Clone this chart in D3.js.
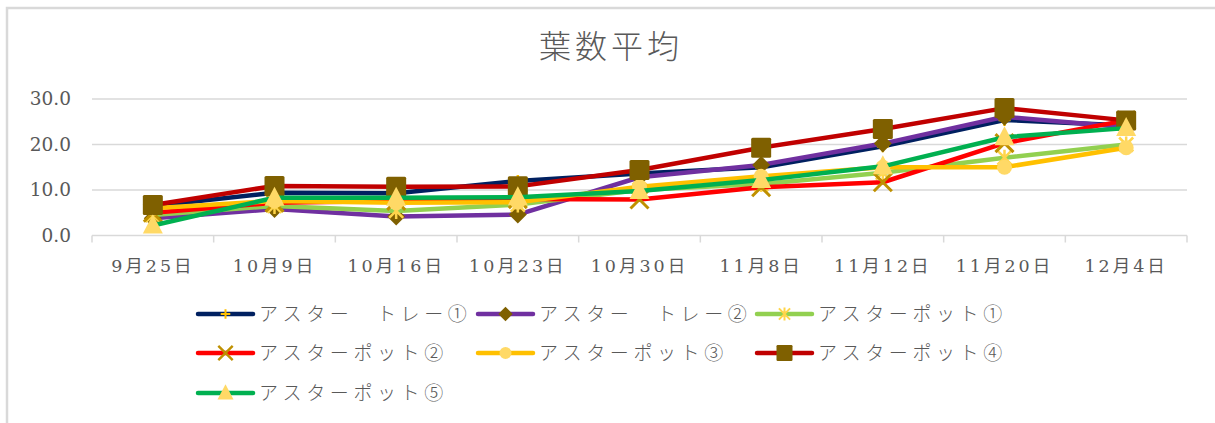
<!DOCTYPE html>
<html>
<head>
<meta charset="utf-8">
<script src="https://cdn.jsdelivr.net/npm/d3@7"></script>
<style>
  html, body { margin: 0; padding: 0; background: #fff; }
  svg { display: block; }
</style>
</head>
<body>
<svg id="chart" width="1215" height="423"></svg>
<script>
// 葉数平均 — average leaf count per sampling date
const categories = ["9月25日", "10月9日", "10月16日", "10月23日", "10月30日", "11月8日", "11月12日", "11月20日", "12月4日"];
const yTicks = [0, 10, 20, 30];

const seriesNames = ["アスター　トレー①", "アスター　トレー②", "アスターポット①", "アスターポット②", "アスターポット③", "アスターポット④", "アスターポット⑤"];
const tray1 = [6.5, 9.4, 9.3, 12.0, 13.6, 15.0, 19.6, 25.4, 24.2];
const tray2 = [3.8, 5.8, 4.2, 4.6, 12.8, 15.5, 20.2, 26.1, 23.8];
const pot1  = [4.5, 6.5, 5.4, 6.8, 10.0, 11.3, 13.8, 17.1, 20.0];
const pot2  = [5.0, 7.2, 7.6, 8.0, 7.9, 10.6, 11.7, 20.3, 25.3];
const pot3  = [6.0, 7.6, 7.2, 7.3, 10.7, 13.0, 15.0, 15.0, 19.3];
const pot4  = [6.7, 10.9, 10.7, 10.8, 14.4, 19.3, 23.4, 28.0, 25.3];
const pot5  = [2.2, 8.3, 8.3, 8.4, 9.8, 12.2, 15.2, 21.6, 23.6];

const seriesValues = [tray1, tray2, pot1, pot2, pot3, pot4, pot5];
const lineColors = ["#002060", "#7030A0", "#92D050", "#FF0000", "#FFC000", "#C00000", "#00B050"];
const markerTypes = ["plus", "diamond", "star", "cross", "circle", "square", "triangle"];
const markerColors = ["#FFC000", "#7F6000", "#FFD54A", "#BF9000", "#FFD966", "#7F6000", "#FFD966"];

const series = seriesNames.map((name, i) => ({
  name, values: seriesValues[i], color: lineColors[i], marker: markerTypes[i], mcolor: markerColors[i]
}));

const svg = d3.select("#chart");
const textGray = "#595959";
const gridGray = "#d9d9d9";

// outer chart frame
svg.append("rect")
  .attr("x", 7).attr("y", 8).attr("width", 1240).attr("height", 440)
  .attr("fill", "#fff").attr("stroke", gridGray).attr("stroke-width", 2.5);

// title
svg.append("text")
  .attr("x", 611).attr("y", 58)
  .attr("text-anchor", "middle")
  .attr("font-family", "'Noto Sans CJK JP', sans-serif")
  .attr("font-weight", 300)
  .attr("font-size", 32)
  .attr("letter-spacing", 4)
  .attr("fill", textGray)
  .text("葉数平均");

// scales
const x = d3.scaleBand().domain(categories).range([92, 1187]).padding(0);
const cx = c => x(c) + x.bandwidth() / 2;
const y = d3.scaleLinear().domain([0, 30]).range([235.5, 99]);

// gridlines
svg.append("g")
  .selectAll("line")
  .data(yTicks.filter(t => t > 0))
  .join("line")
  .attr("x1", 92).attr("x2", 1187)
  .attr("y1", d => y(d)).attr("y2", d => y(d))
  .attr("stroke", gridGray).attr("stroke-width", 1.5);

// y axis labels
const yAxis = d3.axisLeft(y).tickValues(yTicks).tickFormat(d3.format(".1f")).tickSize(0).tickPadding(0);
const gy = svg.append("g").attr("transform", "translate(71,0)").call(yAxis);
gy.select(".domain").remove();
gy.selectAll("text")
  .attr("font-family", "'DejaVu Serif', serif")
  .attr("font-size", 18.5)
  .attr("fill", textGray);

// x axis: baseline, boundary ticks, centered labels
const gx = svg.append("g").attr("transform", `translate(0,${y(0)})`);
gx.append("line").attr("x1", 92).attr("x2", 1187).attr("y1", 0).attr("y2", 0)
  .attr("stroke", gridGray).attr("stroke-width", 1.5);
const boundaries = categories.map(c => x(c)).concat([x.range()[1]]);
gx.selectAll("line.tick")
  .data(boundaries)
  .join("line")
  .attr("class", "tick")
  .attr("x1", d => d).attr("x2", d => d)
  .attr("y1", 0).attr("y2", 7)
  .attr("stroke", gridGray).attr("stroke-width", 1.5);
gx.selectAll("text")
  .data(categories)
  .join("text")
  .attr("x", d => cx(d))
  .attr("y", 36)
  .attr("text-anchor", "middle")
  .attr("font-family", "'DejaVu Serif', 'Noto Sans CJK JP', serif")
  .attr("font-size", 17.5)
  .attr("letter-spacing", 3)
  .attr("fill", textGray)
  .text(d => d);

// marker drawing (k scales the marker size)
function drawMarker(g, type, color, px, py, k = 1) {
  const m = g.append("g").attr("transform", `translate(${px},${py}) scale(${k})`);
  switch (type) {
    case "plus":
      m.append("path").attr("d", "M-6,0H6M0,-6V6")
        .attr("stroke", color).attr("stroke-width", 2.5).attr("fill", "none");
      break;
    case "diamond":
      m.append("path").attr("d", "M0,-9L9,0L0,9L-9,0Z").attr("fill", color);
      break;
    case "star":
      m.append("path").attr("d", "M-7,-7L7,7M7,-7L-7,7M0,-8V8")
        .attr("stroke", color).attr("stroke-width", 2.5).attr("fill", "none");
      break;
    case "cross":
      m.append("path").attr("d", "M-9,-9L9,9M9,-9L-9,9")
        .attr("stroke", color).attr("stroke-width", 3).attr("fill", "none");
      break;
    case "circle":
      m.append("circle").attr("r", 7.5).attr("fill", color);
      break;
    case "square":
      m.append("rect").attr("x", -10).attr("y", -10).attr("width", 20).attr("height", 20)
        .attr("rx", 1.5).attr("fill", color);
      break;
    case "triangle":
      m.append("path").attr("d", "M0,-11L10,8L-10,8Z").attr("fill", color);
      break;
  }
}

// series lines and markers
const line = d3.line().x((d, i) => cx(categories[i])).y(d => y(d));
const plot = svg.append("g");
series.forEach(s => {
  const g = plot.append("g");
  g.append("path")
    .attr("d", line(s.values))
    .attr("fill", "none")
    .attr("stroke", s.color)
    .attr("stroke-width", 4.5)
    .attr("stroke-linejoin", "round")
    .attr("stroke-linecap", "round");
  s.values.forEach((v, i) => drawMarker(g, s.marker, s.mcolor, cx(categories[i]), y(v)));
});

// legend: three columns, wrapping rows
const legendCols = [198, 478, 757];
const legendRows = [314, 353, 393];
const legend = svg.append("g");
series.forEach((s, i) => {
  const lx = legendCols[i % 3];
  const ly = legendRows[Math.floor(i / 3)];
  const g = legend.append("g");
  g.append("line").attr("x1", lx).attr("x2", lx + 55).attr("y1", ly).attr("y2", ly)
    .attr("stroke", s.color).attr("stroke-width", 4.5).attr("stroke-linecap", "round");
  drawMarker(g, s.marker, s.mcolor, lx + 27.5, ly, 0.8);
  g.append("text")
    .attr("x", lx + 61).attr("y", ly + 7)
    .attr("font-family", "'Noto Sans CJK JP', sans-serif")
    .attr("font-weight", 300)
    .attr("font-size", 19)
    .attr("letter-spacing", 4.6)
    .attr("fill", textGray)
    .text(s.name);
});
</script>
</body>
</html>
